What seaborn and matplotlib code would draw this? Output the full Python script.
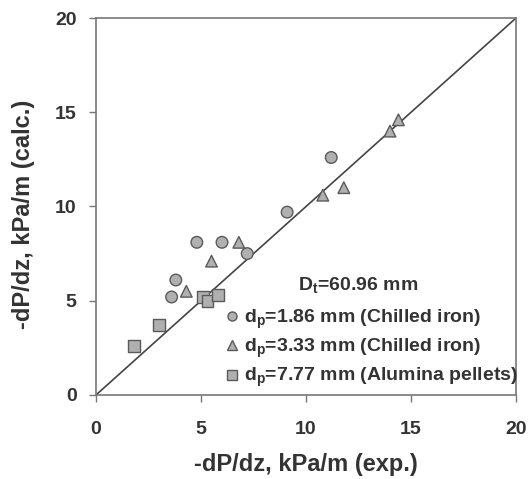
import matplotlib
matplotlib.use("Agg")
import matplotlib.pyplot as plt
import pandas as pd
import seaborn as sns

# Data (x = exp., y = calc., kPa/m)
CIRCLE_X = [11.2, 9.1, 4.8, 6.0, 7.2, 3.8, 3.6]
CIRCLE_Y = [12.6, 9.7, 8.1, 8.1, 7.5, 6.1, 5.2]

TRIANGLE_X = [14.0, 14.4, 11.8, 10.8, 6.8, 5.5, 4.3]
TRIANGLE_Y = [14.0, 14.6, 11.0, 10.6, 8.1, 7.1, 5.5]

SQUARE_X = [5.1, 5.3, 5.8, 3.0, 1.8]
SQUARE_Y = [5.2, 5.0, 5.3, 3.7, 2.6]

LABELS = [
    "d$_\\mathregular{p}$=1.86 mm (Chilled iron)",
    "d$_\\mathregular{p}$=3.33 mm (Chilled iron)",
    "d$_\\mathregular{p}$=7.77 mm (Alumina pellets)",
]
TICKS = [0, 5, 10, 15, 20]

df = pd.concat([
    pd.DataFrame({"exp": CIRCLE_X, "calc": CIRCLE_Y, "series": LABELS[0]}),
    pd.DataFrame({"exp": TRIANGLE_X, "calc": TRIANGLE_Y, "series": LABELS[1]}),
    pd.DataFrame({"exp": SQUARE_X, "calc": SQUARE_Y, "series": LABELS[2]}),
])

sns.set_style("ticks")
plt.rcParams["font.family"] = ["Liberation Sans", "DejaVu Sans"]
plt.rcParams["mathtext.default"] = "regular"
plt.rcParams["mathtext.fontset"] = "custom"
plt.rcParams["mathtext.rm"] = "Liberation Sans:bold"

TEXT = "#333333"

fig = plt.figure(figsize=(5.29, 4.79), dpi=100)
ax = fig.add_axes([0.1815, 0.1754, 0.794, 0.787])

# 1:1 parity line
ax.plot([0, 20], [0, 20], color="#444444", linewidth=1.2, zorder=1)

sns.scatterplot(
    data=df, x="exp", y="calc", style="series",
    markers={LABELS[0]: "o", LABELS[1]: "^", LABELS[2]: "s"},
    color="#b0b0b0", edgecolor="#5a5a5a", linewidth=1.0, s=70,
    ax=ax, zorder=3,
)

ax.set_xlim(0, 20)
ax.set_ylim(0, 20)
ax.set_xticks(TICKS)
ax.set_yticks(TICKS)
ax.set_xlabel("-dP/dz, kPa/m (exp.)", fontsize=17, fontweight="bold", color=TEXT)
ax.set_ylabel("-dP/dz, kPa/m (calc.)", fontsize=17, fontweight="bold", color=TEXT)
ax.xaxis.set_label_coords(0.5, -0.155)
ax.yaxis.set_label_coords(-0.145, 0.48)
ax.tick_params(direction="out", length=5, width=1, color="#777777",
               labelsize=14, labelcolor=TEXT)
ax.tick_params(axis="x", pad=14)
ax.tick_params(axis="y", pad=9)
for lbl in ax.get_xticklabels() + ax.get_yticklabels():
    lbl.set_fontweight("bold")
for sp in ax.spines.values():
    sp.set_color("#777777")
    sp.set_linewidth(1.2)

handles, labels = ax.get_legend_handles_labels()
for h in handles:
    h.set_markersize(6.5)
leg = ax.legend(
    handles, labels, loc="lower left", bbox_to_anchor=(0.312, 0.015),
    frameon=False, borderpad=0, borderaxespad=0, handlelength=0.55,
    handletextpad=0.3, labelspacing=0.3,
    prop={"size": 14, "weight": "bold"},
)
for t in leg.get_texts():
    t.set_color(TEXT)

ax.text(0.623, 0.292, "D$_\\mathregular{t}$=60.96 mm", transform=ax.transAxes,
        ha="center", va="center", fontsize=14, fontweight="bold", color=TEXT)

fig.savefig("out.png", dpi=100)
